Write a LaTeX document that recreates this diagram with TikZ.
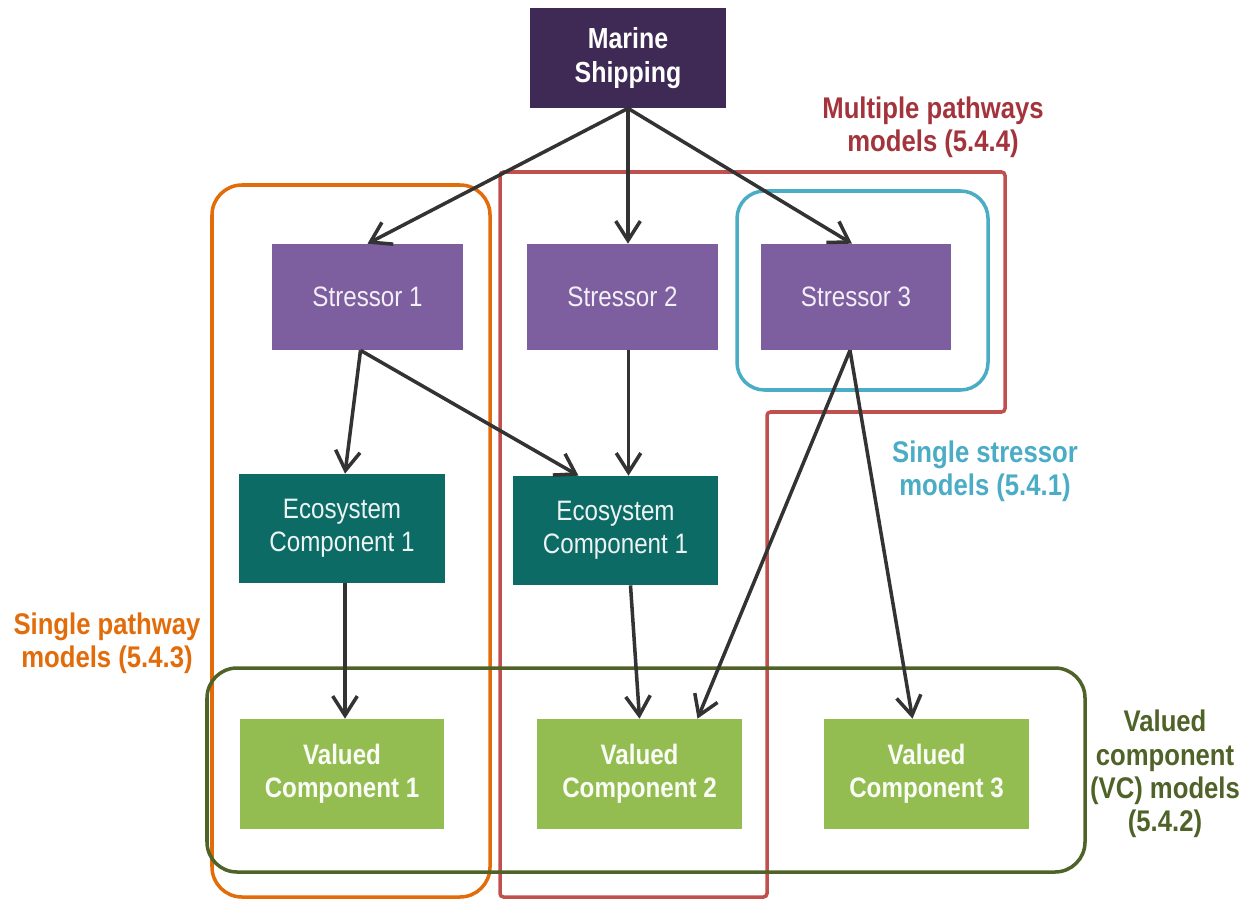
\documentclass[tikz,border=0pt]{standalone}
\usepackage{fontspec}
\setmainfont{Liberation Sans}[FakeStretch=0.86]
\usetikzlibrary{calc,arrows.meta}

\definecolor{shipcol}{HTML}{3E2A55}
\definecolor{stresscol}{HTML}{7D5FA0}
\definecolor{ecocol}{HTML}{0D6B66}
\definecolor{vccol}{HTML}{94BD51}
\definecolor{arrcol}{HTML}{333333}
\definecolor{pathcol}{HTML}{E36C0A}
\definecolor{multicol}{HTML}{C0504D}
\definecolor{multitext}{HTML}{A3343C}
\definecolor{singlecol}{HTML}{4BACC6}
\definecolor{vcgroup}{HTML}{4F6228}

\begin{document}
\begin{tikzpicture}[x=0.02cm,y=-0.02cm,
    box/.style={rectangle, inner sep=0pt, align=center,
      font=\fontsize{16}{19}\selectfont},
    shipbox/.style={box, fill=shipcol, text=white, font=\fontsize{16.5}{19.5}\selectfont\bfseries,
      minimum width=3.92cm, minimum height=2cm},
    stressbox/.style={box, fill=stresscol, text=white!90!stresscol,
      minimum width=3.82cm, minimum height=2.12cm},
    ecobox/.style={box, fill=ecocol, text=white!92!ecocol,
      minimum width=4.12cm, minimum height=2.18cm},
    vcbox/.style={box, fill=vccol, text=white!95!vccol, font=\fontsize{16}{19}\selectfont\bfseries,
      minimum width=4.1cm, minimum height=2.2cm},
    arr/.style={draw=arrcol, line width=2pt, -{Straight Barb[length=11pt,width=14pt]}},
    group/.style={line width=2pt, rounded corners=0.6cm},
    grouplabel/.style={align=center, font=\fontsize{17}{19}\selectfont\bfseries}
  ]
  \useasboundingbox (0,0) rectangle (1243,899);

  % groups
  \draw[group, pathcol] (212,185) rectangle (490,897);
  \draw[line width=2pt, multicol, rounded corners=2pt]
    (500,172) -- (1005,172) -- (1005,412) -- (767,412) -- (767,897) -- (500,897) -- cycle;
  \draw[group, singlecol, rounded corners=0.55cm] (737,191) rectangle (988,390);
  \draw[group, vcgroup] (207,668) rectangle (1085,872);

  % boxes
  \node[shipbox]   (marine)  at (628,58)    {Marine\\Shipping};
  \node[stressbox] (stress1) at (367.5,297) {Stressor 1};
  \node[stressbox] (stress2) at (622.5,297) {Stressor 2};
  \node[stressbox] (stress3) at (856,297)   {Stressor 3};
  \node[ecobox]    (eco1)    at (342,528.5) {Ecosystem\\Component 1};
  \node[ecobox]    (eco2)    at (615.5,530.5) {Ecosystem\\Component 1};
  \node[vcbox]     (vc1)     at (342,774)   {Valued\\Component 1};
  \node[vcbox]     (vc2)     at (639.5,774) {Valued\\Component 2};
  \node[vcbox]     (vc3)     at (926.5,774) {Valued\\Component 3};

  % labels
  \node[grouplabel, text=multitext] (multilabel)  at (933,127)  {Multiple pathways\\models (5.4.4)};
  \node[grouplabel, text=singlecol] (singlelabel) at (985,471)  {Single stressor\\models (5.4.1)};
  \node[grouplabel, text=pathcol]   (pathlabel)   at (107,643)  {Single pathway\\models (5.4.3)};
  \node[grouplabel, text=vcgroup]   (vclabel)     at (1165,774) {Valued\\component\\(VC) models\\(5.4.2)};

  % arrows
  \draw[arr] (marine.south) -- (stress1.north);
  \draw[arr] (marine.south) -- (stress2.north -| marine.south);
  \draw[arr] (marine.south) -- ($(stress3.north)+(-4,0)$);
  \draw[arr] ($(stress1.south)+(-7,0)$) -- ($(eco1.north)+(3,0)$);
  \draw[arr] ($(stress1.south)+(-7,0)$) -- ($(eco2.north)+(-37,0)$);
  \draw[arr] ($(stress2.south)+(6,0)$) -- ($(eco2.north)+(13,0)$);
  \draw[arr] ($(stress3.south)+(-6,0)$) -- ($(vc2.north)+(58,0)$);
  \draw[arr] ($(stress3.south)+(-6,0)$) -- ($(vc3.north)+(-14,0)$);
  \draw[arr] ($(eco1.south)+(3,0)$) -- ($(vc1.north)+(3,0)$);
  \draw[arr] ($(eco2.south)+(15,0)$) -- (vc2.north);
\end{tikzpicture}
\end{document}
